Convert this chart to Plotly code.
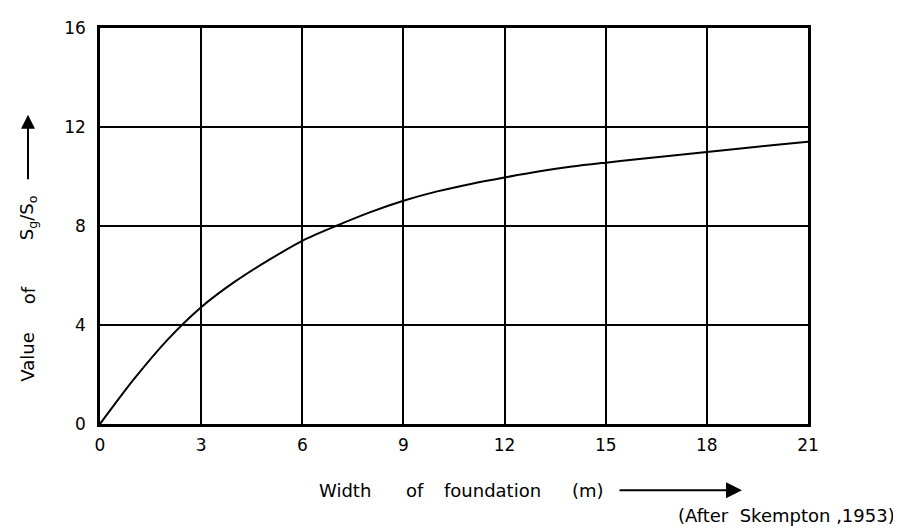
import plotly.graph_objects as go

width_m = [0, 1, 2, 3, 4, 5, 6, 7, 8, 9, 10, 11, 12, 13, 14, 15, 16, 17, 18, 19, 20, 21]
ratio = [0, 1.8, 3.4, 4.72, 5.75, 6.62, 7.4, 8.0, 8.55, 9.02, 9.4, 9.7, 9.96, 10.2, 10.4, 10.56, 10.71, 10.85, 10.99, 11.13, 11.27, 11.4]

x_ticks = [0, 3, 6, 9, 12, 15, 18, 21]
y_ticks = [0, 4, 8, 12, 16]

x_title_words = ["Width", "of", "foundation", "(m)"]
y_title_words = ["Value", "of", "S<sub>g</sub>/S<sub>o</sub>"]
source_note = "(After\u00a0\u00a0Skempton\u00a0,1953)"

FONT = "DejaVu Sans, sans-serif"

# Figure is drawn 8px inside the page (default body margin)
W, H = 893, 524
L, T = 92, 10
PR, PB = 800, 416  # plot right/bottom in figure px


def px(xf):
    return (xf - L) / (PR - L)


def py(yf):
    return (PB - yf) / (PB - T)


fig = go.Figure()
fig.add_trace(go.Scatter(x=width_m, y=ratio, mode="lines",
                         line=dict(color="black", width=2, shape="spline", smoothing=0.8),
                         showlegend=False, hoverinfo="skip"))

annotations = []
# x title words (page x centers -> fig x = page - 8)
x_word_centers = [345, 415, 492, 588]
for w, c in zip(x_title_words, x_word_centers):
    annotations.append(dict(text=w, xref="paper", yref="paper", x=px(c - 8), y=py(484),
                            xanchor="center", yanchor="middle", showarrow=False,
                            font=dict(family=FONT, size=18, color="black")))
annotations.append(dict(text="", xref="paper", yref="paper", x=px(734), y=py(484),
                        ax=-124, ay=0, showarrow=True, arrowhead=2, arrowsize=1.6,
                        arrowwidth=2, arrowcolor="black"))
# y title words (page y centers)
y_word_centers = [356, 292, 213]
for w, c in zip(y_title_words, y_word_centers):
    annotations.append(dict(text=w, xref="paper", yref="paper", x=px(20), y=py(c - 8),
                            xanchor="center", yanchor="middle", textangle=-90,
                            showarrow=False, font=dict(family=FONT, size=18, color="black")))
annotations.append(dict(text="", xref="paper", yref="paper", x=px(20), y=py(99),
                        ax=0, ay=66, showarrow=True, arrowhead=2, arrowsize=1.4,
                        arrowwidth=2, arrowcolor="black"))
# source note
annotations.append(dict(text=source_note, xref="paper", yref="paper", x=px(889), y=py(510),
                        xanchor="right", yanchor="middle", showarrow=False,
                        font=dict(family=FONT, size=18, color="black")))

fig.update_layout(
    width=W, height=H,
    margin=dict(l=L, r=W - PR, t=T, b=H - PB),
    paper_bgcolor="white", plot_bgcolor="white",
    font=dict(family=FONT, size=16, color="black"),
    xaxis=dict(range=[0, 21], tickvals=x_ticks, ticktext=[str(v) for v in x_ticks],
               showgrid=True, gridcolor="black", gridwidth=2,
               showline=True, linecolor="black", linewidth=2.5, mirror=True,
               ticks="", zeroline=False, ticklabelstandoff=4,
               tickfont=dict(family=FONT, size=17, color="black")),
    yaxis=dict(range=[0, 16], tickvals=y_ticks, ticktext=[str(v) for v in y_ticks],
               showgrid=True, gridcolor="black", gridwidth=2,
               showline=True, linecolor="black", linewidth=2.5, mirror=True,
               ticks="", zeroline=False, ticklabelstandoff=8,
               tickfont=dict(family=FONT, size=17, color="black")),
    annotations=annotations,
)

fig.write_html("out.html")
